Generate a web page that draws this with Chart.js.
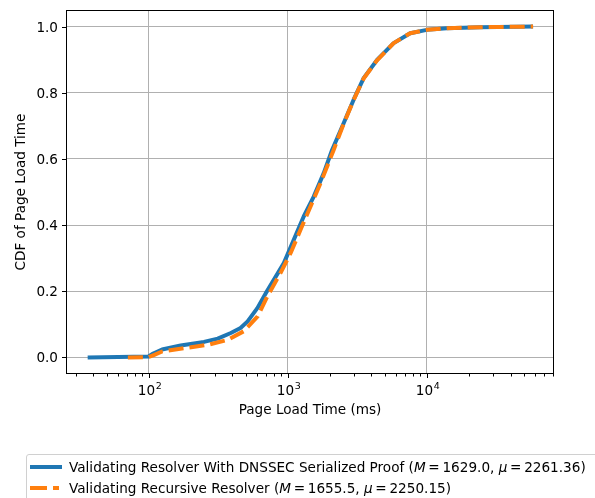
<!DOCTYPE html>
<html>
<head>
<meta charset="utf-8">
<script src="https://cdn.jsdelivr.net/npm/chart.js@4/dist/chart.umd.min.js"></script>
<style>
  html, body { margin: 0; padding: 0; background: #fff; }
  #wrap { position: relative; width: 595px; height: 498px; overflow: hidden; }
  #c { position: absolute; left: 0; top: 0; }
  #legend {
    position: absolute; left: 26px; top: 454px; width: 600px; height: 50px;
    border: 1px solid #d0d0d0; border-radius: 3px; background: rgba(255,255,255,0.8);
    font-family: "DejaVu Sans", sans-serif; font-size: 13.6px; color: #000;
    box-sizing: border-box;
  }
  .row { position: absolute; left: 0; height: 18px; line-height: 18px; white-space: nowrap; }
  .row .txt { position: absolute; left: 42px; top: 0; }
  .sw { position: absolute; left: 3px; top: 7px; width: 32px; height: 4px; }
</style>
</head>
<body>
<div id="wrap">
  <canvas id="c" width="595" height="498"></canvas>
  <div id="legend">
    <div class="row" style="top:3px">
      <div class="sw" style="background:#1f77b4"></div>
      <span class="txt">Validating Resolver With DNSSEC Serialized Proof (<i>M</i>&#8201;=&#8201;1629.0, <i>μ</i>&#8201;=&#8201;2261.36)</span>
    </div>
    <div class="row" style="top:24px">
      <div class="sw" style="background:linear-gradient(to right,#ff7f0e 0,#ff7f0e 17px,transparent 17px,transparent 23px,#ff7f0e 23px,#ff7f0e 29px,transparent 29px)"></div>
      <span class="txt">Validating Recursive Resolver (<i>M</i>&#8201;=&#8201;1655.5, <i>μ</i>&#8201;=&#8201;2250.15)</span>
    </div>
  </div>
</div>
<script>
// ---- data ----
const proofX = [36.5, 100, 108, 125, 170, 250, 314, 390, 458, 515, 605, 675, 707, 938, 1107, 1303, 1538, 1815, 2084, 2523, 2977, 3513, 4385, 5772, 7590, 10000, 13900, 24100, 58000];
const proofY = [0, 0.003, 0.012, 0.024, 0.036, 0.047, 0.057, 0.074, 0.089, 0.109, 0.149, 0.184, 0.199, 0.285, 0.356, 0.426, 0.486, 0.557, 0.627, 0.708, 0.779, 0.844, 0.899, 0.950, 0.980, 0.990, 0.995, 0.998, 1.0];
const recX = [71, 100, 110, 125, 179, 266, 370, 482, 608, 713, 887, 1048, 1236, 1459, 1722, 2139, 2523, 2977, 3513, 4385, 5772, 7590, 10000, 13900, 24100, 58000];
const recY = [0, 0.001, 0.008, 0.018, 0.028, 0.038, 0.053, 0.079, 0.124, 0.184, 0.255, 0.315, 0.386, 0.456, 0.527, 0.627, 0.706, 0.778, 0.843, 0.898, 0.950, 0.980, 0.990, 0.995, 0.998, 1.0];
const yTicks = [0, 0.2, 0.4, 0.6, 0.8, 1.0];
const yTickLabels = ["0.0", "0.2", "0.4", "0.6", "0.8", "1.0"];
const xMajor = [100, 1000, 10000];
const xMajorExp = ["2", "3", "4"];
const xLabel = "Page Load Time (ms)";
const yLabel = "CDF of Page Load Time";

const toPts = (xs, ys) => xs.map((x, i) => ({ x: x, y: ys[i] }));
const FONT = '"DejaVu Sans", sans-serif';

const decor = {
  id: 'decor',
  afterDraw(chart) {
    const ctx = chart.ctx, a = chart.chartArea;
    const xs = chart.scales.x, ys = chart.scales.y;
    ctx.save();
    ctx.strokeStyle = '#000';
    ctx.lineWidth = 1;
    ctx.strokeRect(Math.round(a.left) + 0.5, Math.round(a.top) + 0.5, Math.round(a.right - a.left) - 1, Math.round(a.bottom - a.top) - 1);
    ctx.fillStyle = '#000';
    ctx.font = '13.6px ' + FONT;
    ctx.textAlign = 'right';
    ctx.textBaseline = 'middle';
    yTicks.forEach((v, i) => {
      const py = Math.round(ys.getPixelForValue(v)) + 0.5;
      ctx.beginPath(); ctx.moveTo(a.left - 4, py); ctx.lineTo(a.left, py); ctx.stroke();
      ctx.fillText(yTickLabels[i], a.left - 8, py + 0.5);
    });
    for (let k = 1; k <= 4; k++) {
      for (let m = 2; m <= 9; m++) {
        const v = m * Math.pow(10, k);
        if (v < xs.min || v > xs.max) continue;
        const px = Math.round(xs.getPixelForValue(v)) + 0.5;
        ctx.beginPath(); ctx.moveTo(px, a.bottom); ctx.lineTo(px, a.bottom + 2.5); ctx.stroke();
      }
    }
    xMajor.forEach((v, i) => {
      const px = Math.round(xs.getPixelForValue(v)) + 0.5;
      ctx.beginPath(); ctx.moveTo(px, a.bottom); ctx.lineTo(px, a.bottom + 4); ctx.stroke();
      ctx.font = '13.6px ' + FONT;
      const w1 = ctx.measureText('10').width;
      ctx.font = '9.5px ' + FONT;
      const w2 = ctx.measureText(xMajorExp[i]).width;
      const x0 = px - (w1 + w2) / 2;
      ctx.textAlign = 'left';
      ctx.textBaseline = 'alphabetic';
      ctx.font = '13.6px ' + FONT;
      ctx.fillText('10', x0, a.bottom + 21);
      ctx.font = '9.5px ' + FONT;
      ctx.fillText(xMajorExp[i], x0 + w1 + 0.5, a.bottom + 15);
    });
    ctx.font = '13.6px ' + FONT;
    ctx.textAlign = 'center';
    ctx.textBaseline = 'middle';
    ctx.fillText(xLabel, (a.left + a.right) / 2, 410);
    ctx.translate(21, (a.top + a.bottom) / 2);
    ctx.rotate(-Math.PI / 2);
    ctx.fillText(yLabel, 0, 0);
    ctx.restore();
  }
};

new Chart(document.getElementById('c'), {
  type: 'line',
  data: {
    datasets: [
      { label: 'Validating Resolver With DNSSEC Serialized Proof', data: toPts(proofX, proofY),
        borderColor: '#1f77b4', borderWidth: 4, pointRadius: 0, tension: 0, fill: false, order: 2,
        borderCapStyle: 'butt', borderJoinStyle: 'round' },
      { label: 'Validating Recursive Resolver', data: toPts(recX, recY),
        borderColor: '#ff7f0e', borderWidth: 4, pointRadius: 0, tension: 0, fill: false, order: 1,
        borderDash: [15, 6], borderCapStyle: 'butt', borderJoinStyle: 'round' }
    ]
  },
  options: {
    responsive: false,
    devicePixelRatio: 1,
    animation: false,
    layout: { padding: { left: 66, top: 10, right: 41, bottom: 124 } },
    plugins: { legend: { display: false }, tooltip: { enabled: false } },
    scales: {
      x: {
        type: 'logarithmic', min: 25.5, max: 82000,
        afterBuildTicks: s => { s.ticks = xMajor.map(v => ({ value: v, major: true })); },
        afterFit: s => { s.height = 0; },
        ticks: { display: false },
        grid: { color: '#b0b0b0', lineWidth: 1, drawTicks: false },
        border: { display: false }
      },
      y: {
        type: 'linear', min: -0.05, max: 1.05,
        afterBuildTicks: s => { s.ticks = yTicks.map(v => ({ value: v })); },
        afterFit: s => { s.width = 0; },
        ticks: { display: false },
        grid: { color: '#b0b0b0', lineWidth: 1, drawTicks: false },
        border: { display: false }
      }
    }
  },
  plugins: [decor]
});
</script>
</body>
</html>
